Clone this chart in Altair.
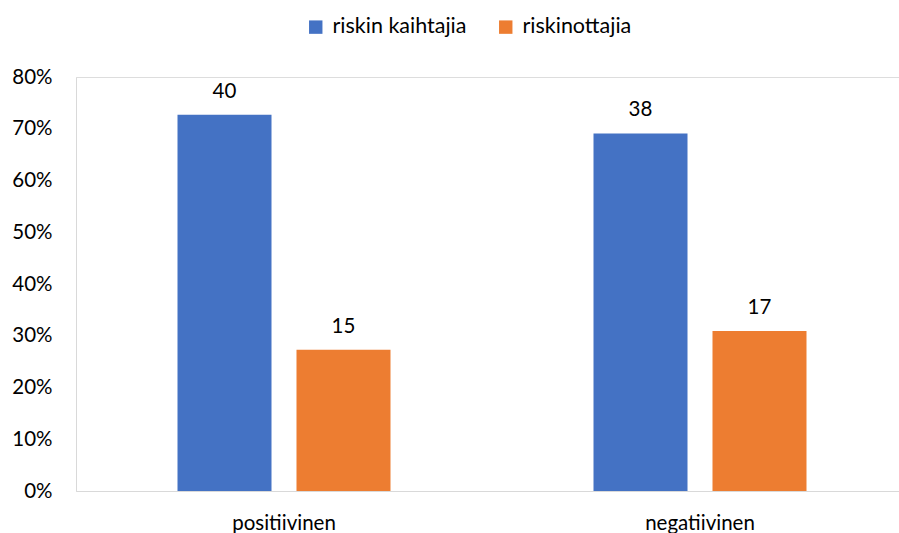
import altair as alt
import pandas as pd

# Response counts per group and risk attitude
categories = ["positiivinen", "negatiivinen"]
series = ["riskin kaihtajia", "riskinottajia"]
counts_riskin_kaihtajia = [40, 38]
counts_riskinottajia = [15, 17]

rows = []
for i, cat in enumerate(categories):
    rows.append({"kategoria": cat, "ryhmä": series[0], "lkm": counts_riskin_kaihtajia[i]})
    rows.append({"kategoria": cat, "ryhmä": series[1], "lkm": counts_riskinottajia[i]})
df = pd.DataFrame(rows)

font = "Lato"
colors = ["#4472C4", "#ED7D31"]

base = alt.Chart(df).transform_joinaggregate(
    yhteensa="sum(lkm)", groupby=["kategoria"]
).transform_calculate(
    osuus="datum.lkm / datum.yhteensa"
)

# The category band runs a little past the right edge of the view
x_enc = alt.X(
    "kategoria:N",
    sort=categories,
    scale=alt.Scale(paddingInner=0, paddingOuter=0, range=[0, 832]),
    axis=alt.Axis(
        title=None, labelAngle=0, ticks=False, domainColor="#d9d9d9",
        labelFont=font, labelFontSize=20.5, labelColor="#000000", labelPadding=22,
    ),
)
offset_enc = alt.XOffset(
    "ryhmä:N", sort=series,
    scale=alt.Scale(paddingInner=0.21, paddingOuter=0.853),
)
y_enc = alt.Y(
    "osuus:Q",
    scale=alt.Scale(domain=[0, 0.8]),
    axis=alt.Axis(
        title=None, format=".0%", values=[0, 0.1, 0.2, 0.3, 0.4, 0.5, 0.6, 0.7, 0.8],
        grid=False, ticks=False, domainColor="#d9d9d9", labelPadding=24,
        labelFont=font, labelFontSize=20.5, labelColor="#000000",
    ),
)

bars = base.mark_bar().encode(
    x=x_enc,
    xOffset=offset_enc,
    y=y_enc,
    color=alt.Color(
        "ryhmä:N", sort=series,
        scale=alt.Scale(domain=series, range=colors),
        legend=alt.Legend(
            title=None, orient="none", direction="horizontal",
            legendX=229, legendY=-61, symbolType="square", symbolSize=180,
            symbolStrokeWidth=0, labelFont=font, labelFontSize=21.5,
            labelColor="#000000", columnPadding=28, labelOffset=6,
        ),
    ),
)

labels = base.mark_text(
    baseline="bottom", dy=-13, font=font, fontSize=20.5, color="#000000"
).encode(
    x=x_enc,
    xOffset=offset_enc,
    y="osuus:Q",
    text="lkm:Q",
)

chart = alt.layer(bars, labels).properties(
    width=823,
    height=414,
    autosize=alt.AutoSizeParams(type="none"),
    padding={"left": 76, "top": 77, "right": 0, "bottom": 42},
).configure_view(stroke=None).configure(background="#ffffff")

chart.save("out.html", embed_options={"renderer": "svg", "actions": False})
